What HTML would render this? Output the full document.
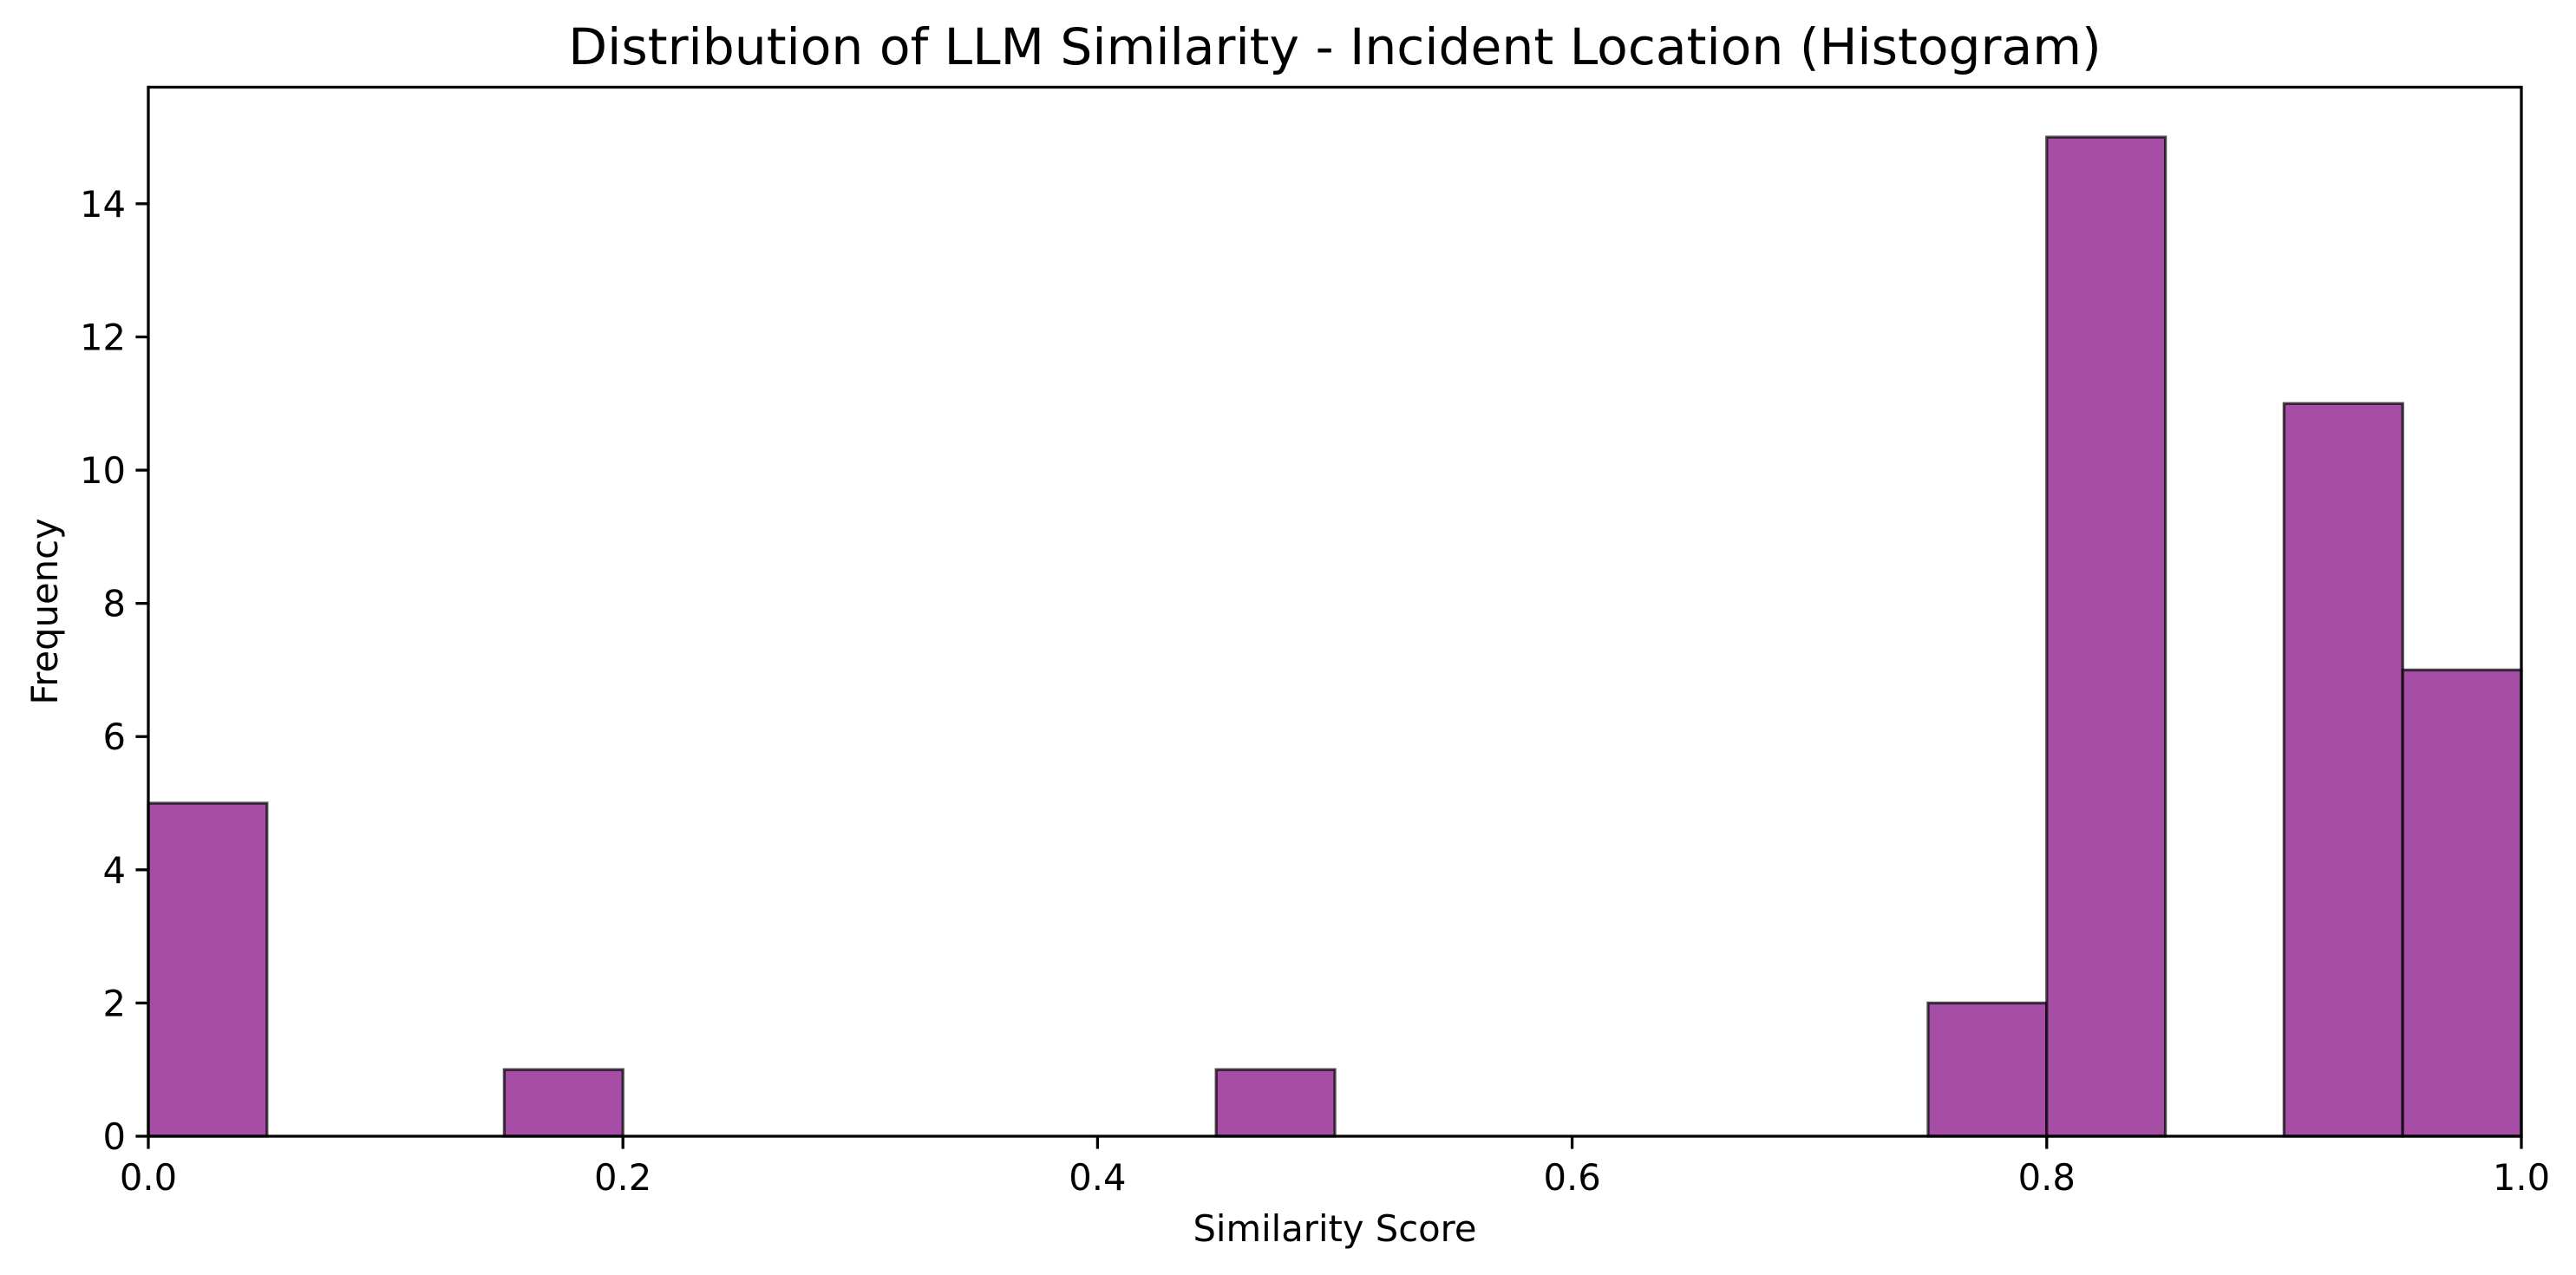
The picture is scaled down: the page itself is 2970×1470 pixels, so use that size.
<!DOCTYPE html>
<html><head><meta charset="utf-8"><style>
body{margin:0;background:#fff}
svg{display:block;font-family:"DejaVu Sans","Liberation Sans",sans-serif}
</style></head><body>
<svg id="chart" width="2970" height="1470" viewBox="0 0 2970 1470" xmlns="http://www.w3.org/2000/svg">
<rect width="2970" height="1470" fill="#fff"/>
<text x="1539" y="74" font-size="58.3" text-anchor="middle" fill="#000">Distribution of LLM Similarity - Incident Location (Histogram)</text>
<text x="1539" y="1431" font-size="41.7" text-anchor="middle" fill="#000">Similarity Score</text>
<text x="0" y="0" font-size="41.7" text-anchor="middle" fill="#000" transform="translate(66,705) rotate(-90)">Frequency</text>
<g id="bars"></g>
<g id="axes"></g>
</svg>
<script>
const binStarts = [0,0.05,0.1,0.15,0.2,0.25,0.3,0.35,0.4,0.45,0.5,0.55,0.6,0.65,0.7,0.75,0.8,0.85,0.9,0.95];
const counts = [5,0,0,1,0,0,0,0,0,1,0,0,0,0,0,2,15,0,11,7];
const binWidth = 0.05;
const xTicks = [0,0.2,0.4,0.6,0.8,1.0];
const xTickLabels = ["0.0","0.2","0.4","0.6","0.8","1.0"];
const yTicks = [0,2,4,6,8,10,12,14];
const yTickLabels = ["0","2","4","6","8","10","12","14"];

const L=171,R=2907,T=100.5,B=1310;
const yMax=Math.max(...counts)*1.05;
const xs=v=>L+(v-0)/(1-0)*(R-L);
const ys=v=>B-v/yMax*(B-T);
const NS="http://www.w3.org/2000/svg";
const bars=document.getElementById('bars');
const axes=document.getElementById('axes');
binStarts.forEach((b,i)=>{
  if(counts[i]<=0) return;
  const r=document.createElementNS(NS,'rect');
  r.setAttribute('x',xs(b));r.setAttribute('y',ys(counts[i]));
  r.setAttribute('width',xs(b+binWidth)-xs(b));r.setAttribute('height',B-ys(counts[i]));
  r.setAttribute('fill','rgb(166,77,166)');r.setAttribute('stroke','rgba(0,0,0,0.7)');r.setAttribute('stroke-width','3.3');
  
  
  bars.appendChild(r);
});
const frame=document.createElementNS(NS,'rect');
frame.setAttribute('x',L);frame.setAttribute('y',T);frame.setAttribute('width',R-L);frame.setAttribute('height',B-T);
frame.setAttribute('fill','none');frame.setAttribute('stroke','#000');frame.setAttribute('stroke-width','3.3');


axes.appendChild(frame);
xTicks.forEach((v,i)=>{
  const l=document.createElementNS(NS,'line');
  l.setAttribute('x1',xs(v));l.setAttribute('x2',xs(v));l.setAttribute('y1',B);l.setAttribute('y2',B+14.6);
  l.setAttribute('stroke','#000');l.setAttribute('stroke-width','3.3');
  
  
  axes.appendChild(l);
  const t=document.createElementNS(NS,'text');
  t.setAttribute('x',xs(v));t.setAttribute('y',B+62);t.setAttribute('font-size','41.7');t.setAttribute('text-anchor','middle');
  t.textContent=xTickLabels[i];
  
  
  axes.appendChild(t);
});
yTicks.forEach((v,i)=>{
  const l=document.createElementNS(NS,'line');
  l.setAttribute('x1',L-14.6);l.setAttribute('x2',L);l.setAttribute('y1',ys(v));l.setAttribute('y2',ys(v));
  l.setAttribute('stroke','#000');l.setAttribute('stroke-width','3.3');
  
  
  axes.appendChild(l);
  const t=document.createElementNS(NS,'text');
  t.setAttribute('x',L-26);t.setAttribute('y',ys(v)+15);t.setAttribute('font-size','41.7');t.setAttribute('text-anchor','end');
  t.textContent=yTickLabels[i];
  
  
  axes.appendChild(t);
});
</script>
</body></html>
